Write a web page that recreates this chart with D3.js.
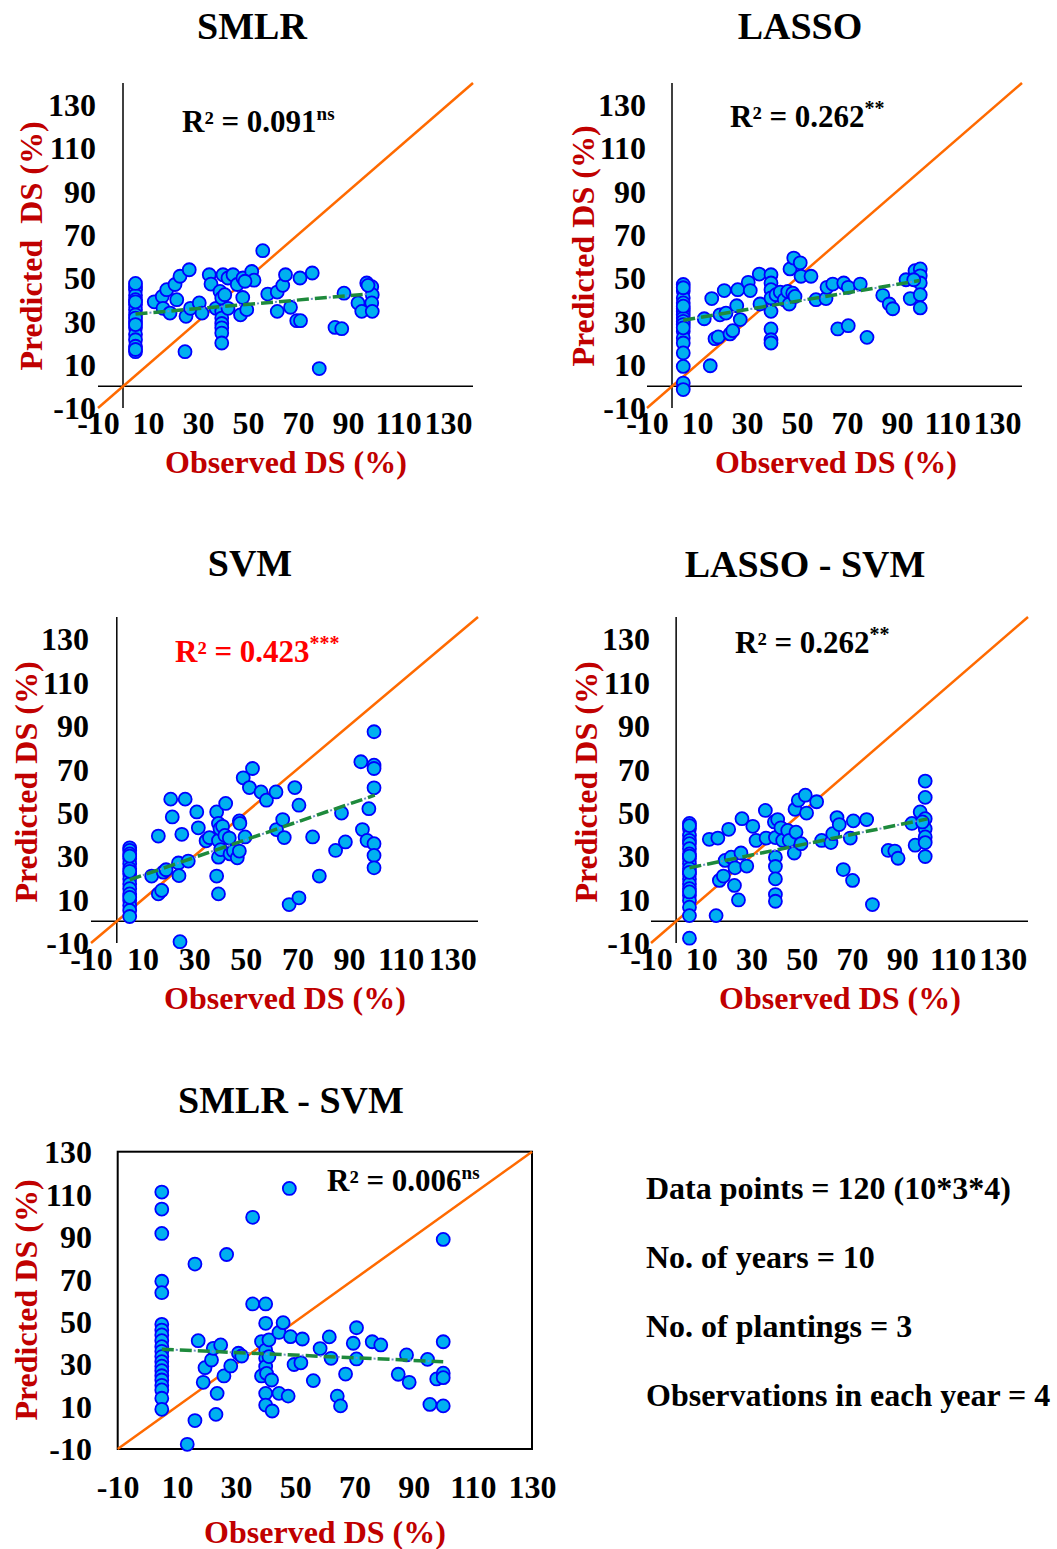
<!DOCTYPE html>
<html>
<head>
<meta charset="utf-8">
<script src="https://cdn.jsdelivr.net/npm/d3@7"></script>
<style>
  body { margin: 0; background: #fff; }
  svg { display: block; font-family: "Liberation Serif", "Times New Roman", serif; font-weight: bold; }
</style>
</head>
<body>
<div class="chart"></div>
<script>
// tick labels shared by every panel
const tickValues = [-10, 10, 30, 50, 70, 90, 110, 130];

// SMLR
const smlrObs = [5, 5, 5, 5, 5, 5, 5, 5, 5, 5, 5, 5, 5, 5, 5, 5, 5, 5,
  12.5, 15.7, 16, 17.5, 18.8, 20.8, 21.5, 22.8, 25.2, 26.5, 27, 30.5, 31.6, 24.8, 34.5, 35.2, 37.2, 38.8,
  39.5, 39.5, 39.5, 39.5, 39.5, 39.5, 39.5, 40, 42, 42, 40.7, 44, 45.7, 47, 47.9, 48, 49.5, 51.5, 52.4, 48.8,
  55.9, 57.9, 61.7, 61.7, 63.9, 65, 67, 69.5, 71, 70.8, 75.7, 84.8, 87.5, 78.5, 88.4, 94, 95.5,
  97.5, 99.5, 99.7, 99.5, 99.7, 98];
const smlrPred = [46, 44.6, 42, 40, 37.7, 35.4, 33, 30, 27, 24, 21.5, 18.5, 16, 47.5, 39, 31.5, 28.5, 17,
  39, 41.5, 36, 44.6, 33.8, 47, 40, 50.8, 32.3, 53.8, 36, 38.5, 33.8, 16, 51.5, 47.2, 36, 43.8,
  40.8, 34.6, 31.5, 29, 27, 24.6, 20, 51.5, 50, 36, 42.3, 51.5, 47, 33, 41, 50, 35.4, 53, 49, 48.5,
  62.6, 42.6, 43.5, 34.6, 46.6, 51.5, 36.5, 30.3, 30.3, 50, 52.3, 27.2, 26.6, 8.2, 43, 38.5, 34.6,
  47.7, 46, 42.3, 38.5, 34.6, 46.6];
const smlrTrend = [[5, 33.4], [98, 42.6]];

// LASSO
const lassoObs = [4.5, 4.5, 4.5, 4.5, 4.5, 4.5, 4.5, 4.5, 4.5, 4.5, 4.5, 4.5, 4.5, 4.5, 4.5, 4.5, 4.5, 4.5, 4.5, 4.5,
  12.9, 15.9, 15.3, 17.2, 18.5, 19.2, 21.6, 20.9, 23.2, 24.3, 25.9, 26.3, 27.3, 30.5, 31.3, 34.9, 35.2,
  39.6, 39.6, 39.6, 39.6, 39.6, 39.6, 39.6, 39.6, 41.6, 43.3, 44.9, 46.9, 46.3, 47.2, 48.7, 48.3, 49.2,
  51.3, 51.6, 55.6, 57.6, 61.6, 62, 64.3, 66.3, 68.7, 70.5, 70.5, 75.3, 78, 84.3, 86.9, 88.3,
  93.6, 95.3, 97.2, 99.3, 99.3, 99.3, 99.3, 99.3, 96.7];
const lassoPred = [47, 44, 40.8, 38.5, 36, 34.6, 33, 31.5, 30, 28.5, 25.4, 22.3, 20, 15.4, 9.2, 1.5, -1.5, 45.5, 37, 27,
  31.2, 40.5, 9.5, 22, 22.8, 33, 33.8, 44.2, 24.2, 25.7, 37.2, 44.6, 30.8, 48, 44.2, 51.8, 38,
  51.5, 47.7, 44.6, 40.8, 34.6, 26.5, 21.5, 20, 42.3, 43.5, 40, 38, 43.8, 54.2, 59.2, 43, 41.5,
  57, 50.8, 50.8, 40, 40.5, 45.7, 47.2, 26.5, 47.7, 45.7, 28, 47.2, 22.6, 42, 38, 35.8,
  49.2, 40.5, 53.4, 54.2, 51, 47.7, 42.3, 36.2, 49.2];
const lassoTrend = [[4.5, 30.5], [99, 48.8]];

// SVM
const svmObs = [5, 5, 5, 5, 5, 5, 5, 5, 5, 5, 5, 5, 5, 5, 5, 5, 5, 5,
  13.5, 16.1, 16.1, 17.4, 18, 19.1, 20.9, 21.5, 23.9, 24.1, 24.5, 25.2, 26.5, 27.7, 31, 31.6, 34.6, 35.9,
  38.7, 39.4, 39.4, 39.4, 38.7, 39.4, 40, 41, 40.3, 42.2, 41.9, 43.6, 43.9, 45.2, 46.7, 47.5, 47.5, 47.7,
  49, 49.7, 51.4, 52.6, 55.9, 58, 61.7, 61.9, 64.3, 64.9, 66.8, 69, 70.6, 70.6, 75.9, 78.5, 84.8, 87.1, 88.6,
  94.6, 95.2, 97, 97.7, 99.7, 99.7, 99.7, 99.7, 99.7, 99.7, 99.7];
const svmPred = [33.8, 32.6, 31, 28.8, 26.5, 24.2, 21.8, 19.5, 17.2, 15, 12.6, 9.5, 7.2, 5, 2.2, 30, 23, 11,
  20.8, 39.2, 12.6, 14.2, 22.6, 23.7, 56.2, 48, 26.8, 21, -9.4, 40, 56.2, 27.7, 50.3, 43, 37, 38.5,
  50.3, 45, 37.2, 29.5, 20.8, 12.6, 42.6, 43.7, 33, 54.2, 39.5, 38.3, 31, 32.3, 29.2, 46.2, 32.3, 45,
  66, 38.8, 61.5, 70.3, 59.5, 55.7, 59.5, 42.2, 46.8, 38.5, 7.7, 61.5, 53.4, 10.8, 38.8, 20.8, 32.6, 49.8, 36.5,
  73.4, 42.2, 37.2, 51.8, 87.2, 71.8, 70.3, 61.4, 35.7, 30.3, 24.6];
const svmTrend = [[5, 19.1], [100, 58]];

// LASSO - SVM
const lassoSvmObs = [5.3, 5.3, 5.3, 5.3, 5.3, 5.3, 5.3, 5.3, 5.3, 5.3, 5.3, 5.3, 5.3, 5.3, 5.3, 5.3, 5.3, 5.3, 5.3, 5.3, 5.3, 5.3, 5.3,
  13.2, 16.6, 15.9, 17.2, 18.8, 19.5, 20.9, 21.9, 23.2, 23.4, 24.8, 25.8, 26.2, 28.1, 30.5, 31.8, 35.5, 35.8,
  39.1, 39.5, 39.5, 39.5, 39.5, 39.5, 39.5, 40.4, 41.7, 42.4, 44.4, 45, 47, 47.7, 47.3, 48.6, 49.7, 51.4, 51.9,
  55.9, 57.9, 61.6, 62.3, 64, 64.9, 66.5, 69.3, 70.2, 70.5, 75.8, 78.1, 84.4, 87, 88.3, 93.8, 95.1, 97.1,
  99.1, 99.1, 99.1, 99.1, 99.1, 99.1, 99.1, 98];
const lassoSvmPred = [45, 42.6, 39.5, 37.2, 35.7, 33.4, 31, 28.8, 26.5, 24.2, 21.8, 19.5, 17.2, 15, 11.8, 9.5, 6.5, 2.6, -7.8, 44, 30, 22.5, 13.5,
  37.7, 38.3, 2.6, 18.8, 20.8, 28, 42.3, 29.5, 16.5, 24.6, 9.8, 31.4, 47.2, 25.4, 43.7, 37.2, 51, 38.3,
  45.7, 38.5, 29.5, 25.2, 19.5, 12.3, 9.2, 46.8, 43, 37.2, 41.8, 37.2, 31.4, 41, 51.5, 55.7, 35.7, 58, 49.8,
  55, 37.2, 36.2, 40.3, 47.7, 44.5, 23.8, 38.3, 18.8, 46.2, 46.8, 7.7, 32.6, 32.3, 29, 45, 35, 50.3,
  64.5, 57, 47.2, 42.6, 38.8, 36.2, 29.8, 45.7];
const lassoSvmTrend = [[5.3, 24.6], [100, 47.1]];

// SMLR - SVM
const smlrSvmObs = [4.9, 4.9, 4.9, 4.9, 4.9, 4.9, 4.9, 4.9, 4.9, 4.9, 4.9, 4.9, 4.9, 4.9, 4.9, 4.9, 4.9, 4.9, 4.9, 4.9, 4.9,
  13.5, 16.1, 16.1, 17.2, 18.9, 19.5, 21.7, 22.3, 24.8, 23.6, 23.2, 25.9, 26.8, 28.2, 30.8, 31.9,
  35.6, 35.6, 40, 40, 38.6, 40, 40, 40, 38.6, 40.3, 40, 40, 41.1, 42, 42.2, 41.1, 44.5, 44.5, 45.9,
  48, 47.6, 48.4, 49.6, 51.9, 52.4, 56.1, 58.4, 61.5, 62.1, 64.2, 65.3, 67, 69.6, 70.7, 70.7,
  76, 78.9, 84.8, 87.6, 88.5, 94.7, 95.5, 97.8, 100, 100, 100, 100, 100];
const smlrSvmPred = [111, 103, 91.5, 69, 63.6, 48.7, 46, 43.7, 41, 38.2, 36, 33.5, 31.1, 29, 26.9, 24.5, 22.5, 20, 17.8, 13.9, 8.7,
  -7.8, 77.1, 3.4, 41, 21.4, 28.3, 31.9, 37.4, 39, 16.2, 6.3, 24.4, 81.6, 29.1, 35.1, 33.8,
  99.1, 58.3, 58.3, 49.2, 40.6, 36.6, 32.7, 28.8, 24.4, 25.6, 16.2, 10.7, 41.4, 22.5, 7.9, 33.5, 44.9, 16.2, 49.5,
  112.7, 14.9, 42.9, 29.8, 30.6, 41.8, 22.2, 37.3, 42.8, 32.7, 14.9, 10.3, 25.3, 39.8, 47.1, 32.4,
  40.5, 39, 25.2, 34.3, 21.4, 32.2, 11, 23, 88.7, 40.5, 25.7, 23.6, 10.3];
const smlrSvmTrend = [[4.9, 37], [100, 31.1]];

// notes beside the last panel
const notes = ["Data points = 120 (10*3*4)", "No. of years = 10", "No. of plantings = 3", "Observations in each year = 4"];

const panels = [
  {title: "SMLR", obs: smlrObs, pred: smlrPred, trend: smlrTrend, r2: "0.091", sig: "ns", r2Color: "#000",
   max: 140, left: 98, right: 473, top: 83, bottom: 408, box: false,
   titleX: 252, titleY: 39, r2X: 182, r2Y: 132, yLabX: 96, xLabY: 434,
   xTitleX: 286, xTitleY: 473, yTitleX: 42, yTitleY: 246, yTitle: "Predicted  DS (%)"},
  {title: "LASSO", obs: lassoObs, pred: lassoPred, trend: lassoTrend, r2: "0.262", sig: "**", r2Color: "#000",
   max: 140, left: 647, right: 1022, top: 83, bottom: 408, box: false,
   titleX: 800, titleY: 39, r2X: 730, r2Y: 127, yLabX: 646, xLabY: 434,
   xTitleX: 836, xTitleY: 473, yTitleX: 594, yTitleY: 246, yTitle: "Predicted DS (%)"},
  {title: "SVM", obs: svmObs, pred: svmPred, trend: svmTrend, r2: "0.423", sig: "***", r2Color: "#ff0000",
   max: 140, left: 91, right: 478, top: 617, bottom: 943, box: false,
   titleX: 250, titleY: 576, r2X: 175, r2Y: 662, yLabX: 89, xLabY: 970,
   xTitleX: 285, xTitleY: 1009, yTitleX: 37, yTitleY: 782, yTitle: "Predicted DS (%)"},
  {title: "LASSO - SVM", obs: lassoSvmObs, pred: lassoSvmPred, trend: lassoSvmTrend, r2: "0.262", sig: "**", r2Color: "#000",
   max: 140, left: 651, right: 1028, top: 617, bottom: 943, box: false,
   titleX: 805, titleY: 577, r2X: 735, r2Y: 653, yLabX: 650, xLabY: 970,
   xTitleX: 840, xTitleY: 1009, yTitleX: 597, yTitleY: 782, yTitle: "Predicted DS (%)"},
  {title: "SMLR - SVM", obs: smlrSvmObs, pred: smlrSvmPred, trend: smlrSvmTrend, r2: "0.006", sig: "ns", r2Color: "#000",
   max: 130, left: 117.7, right: 532, top: 1151.7, bottom: 1449, box: true,
   titleX: 291, titleY: 1113, r2X: 327, r2Y: 1191, yLabX: 92, xLabY: 1498,
   xTitleX: 325, xTitleY: 1543, yTitleX: 37, yTitleY: 1300, yTitle: "Predicted DS (%)"}
];

const width = 1057;
const height = 1549;

const svg = d3.select(".chart")
  .append("svg")
  .attr("width", width)
  .attr("height", height);

function drawPanel(p) {
  const g = svg.append("g").attr("class", "panel");

  const x = d3.scaleLinear().domain([-10, p.max]).range([p.left, p.right]);
  const y = d3.scaleLinear().domain([-10, p.max]).range([p.bottom, p.top]);

  // frame: either a box or two zero lines
  if (p.box) {
    g.append("rect")
      .attr("x", x(-10)).attr("y", y(p.max))
      .attr("width", x(p.max) - x(-10)).attr("height", y(-10) - y(p.max))
      .attr("fill", "none").attr("stroke", "#000").attr("stroke-width", 2);
  } else {
    g.append("line")
      .attr("x1", x(-10)).attr("x2", x(p.max)).attr("y1", y(0)).attr("y2", y(0))
      .attr("stroke", "#000").attr("stroke-width", 1.5);
    g.append("line")
      .attr("x1", x(0)).attr("x2", x(0)).attr("y1", y(-10)).attr("y2", y(p.max))
      .attr("stroke", "#000").attr("stroke-width", 1.5);
  }

  // tick labels via d3 axes (plain hyphen for negatives, like the original)
  const fmt = d => String(d);
  const xAxis = g.append("g")
    .attr("transform", `translate(0,${p.xLabY})`)
    .call(d3.axisBottom(x).tickValues(tickValues).tickFormat(fmt).tickSize(0).tickPadding(0));
  xAxis.select(".domain").remove();
  xAxis.selectAll("text").attr("y", 0).attr("dy", 0);

  const yAxis = g.append("g")
    .attr("transform", `translate(${p.yLabX},0)`)
    .call(d3.axisLeft(y).tickValues(tickValues).tickFormat(fmt).tickSize(0).tickPadding(0));
  yAxis.select(".domain").remove();
  yAxis.selectAll("text").attr("x", 0).attr("dy", "0.34em");

  g.selectAll(".tick text")
    .attr("fill", "#000")
    .style("font-family", "Liberation Serif, Times New Roman, serif")
    .style("font-weight", "bold")
    .style("font-size", "32px");

  // 1:1 line
  g.append("line")
    .attr("x1", x(-10)).attr("y1", y(-10))
    .attr("x2", x(p.max)).attr("y2", y(p.max))
    .attr("stroke", "#ff6a00").attr("stroke-width", 2.5);

  // points
  const pts = p.obs.map((d, i) => ({o: d, p: p.pred[i]}));
  g.append("g").selectAll("circle")
    .data(pts)
    .join("circle")
    .attr("cx", d => x(d.o))
    .attr("cy", d => y(d.p))
    .attr("r", 6.5)
    .attr("fill", "#00b0f0")
    .attr("stroke", "#0000ff")
    .attr("stroke-width", 1.8);

  // trend line
  const line = d3.line().x(d => x(d[0])).y(d => y(d[1]));
  g.append("path")
    .attr("d", line(p.trend))
    .attr("fill", "none")
    .attr("stroke", "#6f8fc4")
    .attr("stroke-width", 2)
    .attr("stroke-dasharray", "2,16")
    .attr("stroke-dashoffset", -14);
  g.append("path")
    .attr("d", line(p.trend))
    .attr("fill", "none")
    .attr("stroke", "#1e8a3c")
    .attr("stroke-width", 3.5)
    .attr("stroke-dasharray", "12,6");

  // title
  g.append("text")
    .attr("x", p.titleX).attr("y", p.titleY)
    .attr("text-anchor", "middle")
    .style("font-size", "38px")
    .attr("fill", "#000")
    .text(p.title);

  // R squared
  const r2 = g.append("text")
    .attr("x", p.r2X).attr("y", p.r2Y)
    .attr("fill", p.r2Color)
    .style("font-size", "31px");
  r2.append("tspan").text("R² = " + p.r2);
  r2.append("tspan")
    .attr("dy", -12)
    .style("font-size", p.sig === "ns" ? "19px" : "20px")
    .text(p.sig);

  // axis titles
  g.append("text")
    .attr("x", p.xTitleX).attr("y", p.xTitleY)
    .attr("text-anchor", "middle")
    .attr("fill", "#c00000")
    .style("font-size", "32px")
    .text("Observed DS (%)");

  g.append("text")
    .attr("transform", `translate(${p.yTitleX},${p.yTitleY}) rotate(-90)`)
    .attr("text-anchor", "middle")
    .attr("fill", "#c00000")
    .style("font-size", "32px")
    .style("white-space", "pre")
    .text(p.yTitle);
}

panels.forEach(drawPanel);

// notes block
svg.append("g").selectAll("text")
  .data(notes)
  .join("text")
  .attr("x", 646)
  .attr("y", (d, i) => 1199 + i * 69)
  .attr("fill", "#000")
  .style("font-size", "32px")
  .text(d => d);
</script>
</body>
</html>
